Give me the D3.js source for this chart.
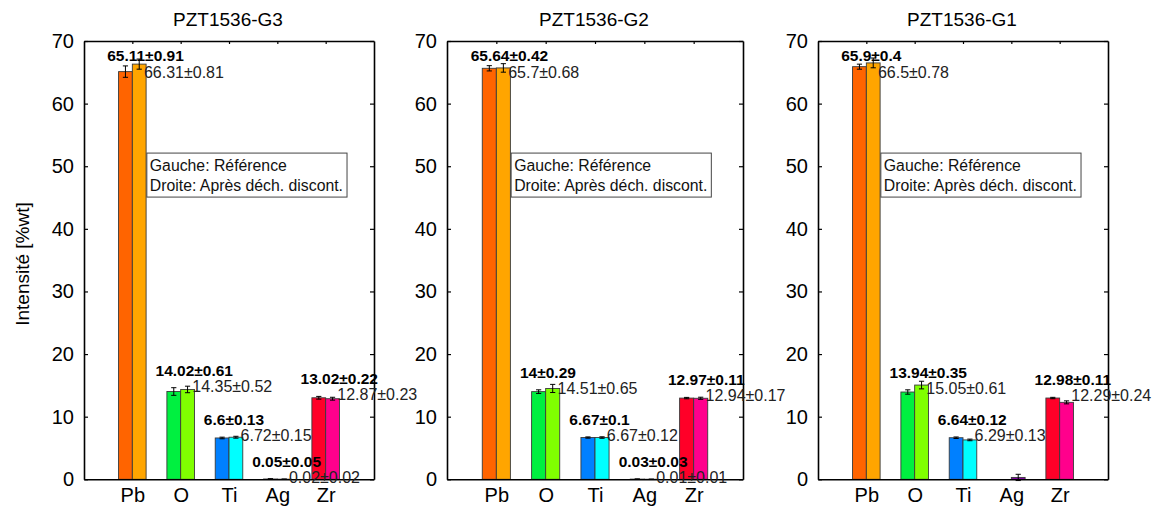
<!DOCTYPE html>
<html>
<head>
<meta charset="utf-8">
<script src="https://cdnjs.cloudflare.com/ajax/libs/d3/7.8.5/d3.min.js"></script>
<style>
  html, body { margin: 0; padding: 0; background: #fff; }
  svg { display: block; }
  text { font-family: "Liberation Sans", Arial, Helvetica, sans-serif; }
</style>
</head>
<body>
<svg id="chart" width="1155" height="509"></svg>
<script>
// ---------------- data ----------------
const categories = ["Pb", "O", "Ti", "Ag", "Zr"];
const panelTitles = ["PZT1536-G3", "PZT1536-G2", "PZT1536-G1"];
const refValues   = [[65.11, 14.02, 6.6, 0.05, 13.02], [65.64, 14, 6.67, 0.03, 12.97], [65.9, 13.94, 6.64, 0, 12.98]];
const refErrors   = [[0.91, 0.61, 0.13, 0.05, 0.22], [0.42, 0.29, 0.1, 0.03, 0.11], [0.4, 0.35, 0.12, 0, 0.11]];
const afterValues = [[66.31, 14.35, 6.72, 0.02, 12.87], [65.7, 14.51, 6.67, 0.01, 12.94], [66.5, 15.05, 6.29, 0.3, 12.29]];
const afterErrors = [[0.81, 0.52, 0.15, 0.02, 0.23], [0.68, 0.65, 0.12, 0.01, 0.17], [0.78, 0.61, 0.13, 0.5, 0.24]];
const showLabels  = [[true, true, true, true, true], [true, true, true, true, true], [true, true, true, false, true]];
const yTicks = [0, 10, 20, 30, 40, 50, 60, 70];
const refColors   = ["#ff6400", "#00f040", "#0080ff", "#5a14c8", "#ff0028"];
const afterColors = ["#ffa500", "#80ff00", "#00ffff", "#8c00b4", "#ff008c"];
const legendLines = ["Gauche: Référence", "Droite: Après déch. discont."];
const yLabel = "Intensité [%wt]";

// ---------------- layout ----------------
const panelBounds = [[84, 374], [447, 743], [818, 1108]];
const plotTop = 41, plotBottom = 479.3;
const groupWidth = 0.57;

const svg = d3.select("#chart");

function fmt(v, e) { return String(v) + "±" + String(e); }

panelBounds.forEach((b, p) => {
  const x = d3.scaleLinear().domain([0, 6]).range([b[0], b[1]]);
  const y = d3.scaleLinear().domain([0, 70]).range([plotBottom, plotTop]);
  const g = svg.append("g");
  const catPos = (i) => i + 1;

  // bars
  const bw = groupWidth / 2;
  const series = [
    { vals: refValues[p], errs: refErrors[p], colors: refColors, off: -bw },
    { vals: afterValues[p], errs: afterErrors[p], colors: afterColors, off: 0 }
  ];
  series.forEach(s => {
    g.selectAll(null).data(s.vals).enter().append("rect")
      .attr("x", (d, i) => x(catPos(i) + s.off))
      .attr("width", (d, i) => x(catPos(i) + s.off + bw) - x(catPos(i) + s.off))
      .attr("y", d => y(d))
      .attr("height", d => y(0) - y(d))
      .attr("fill", (d, i) => s.colors[i])
      .attr("stroke", "#3a3a3a")
      .attr("stroke-width", 0.9);
  });

  // error bars
  series.forEach(s => {
    s.vals.forEach((v, i) => {
      const e = s.errs[i];
      if (!e) return;
      const cx = x(catPos(i) + s.off + bw / 2);
      const y1 = y(v - e), y2 = y(v + e);
      g.append("line").attr("x1", cx).attr("x2", cx).attr("y1", y1).attr("y2", y2)
        .attr("stroke", "#000").attr("stroke-width", 1);
      [y1, y2].forEach(yy => g.append("line").attr("x1", cx - 2.6).attr("x2", cx + 2.6)
        .attr("y1", yy).attr("y2", yy).attr("stroke", "#000").attr("stroke-width", 1));
    });
  });

  // axes box
  const axisStyle = sel => {
    sel.selectAll(".domain").attr("stroke", "#000").attr("stroke-width", 1.6);
    sel.selectAll(".tick line").attr("stroke", "#000").attr("stroke-width", 1.2);
  };
  const left = g.append("g").attr("transform", `translate(${b[0]},0)`)
    .call(d3.axisLeft(y).tickValues(yTicks).tickSizeInner(-4).tickSizeOuter(0).tickPadding(10).tickFormat(d3.format("d")));
  axisStyle(left);
  left.selectAll("text").attr("font-size", 20).attr("fill", "#000");

  const right = g.append("g").attr("transform", `translate(${b[1]},0)`)
    .call(d3.axisRight(y).tickValues(yTicks).tickSizeInner(-4).tickSizeOuter(0).tickFormat(""));
  axisStyle(right);

  const top = g.append("g").attr("transform", `translate(0,${plotTop})`)
    .call(d3.axisTop(x).tickValues(categories.map((c, i) => catPos(i))).tickSizeInner(-3).tickSizeOuter(0).tickFormat(""));
  axisStyle(top);

  const bottom = g.append("g").attr("transform", `translate(0,${plotBottom})`)
    .call(d3.axisBottom(x).tickValues(categories.map((c, i) => catPos(i))).tickSizeInner(0).tickSizeOuter(0).tickPadding(9)
      .tickFormat((d, i) => categories[i]));
  axisStyle(bottom);
  bottom.selectAll("text").attr("font-size", 20).attr("fill", "#000");

  // title
  g.append("text").attr("x", (b[0] + b[1]) / 2 - 1).attr("y", 25.5).attr("text-anchor", "middle")
    .attr("font-size", 19).attr("fill", "#000").text(panelTitles[p]);

  // legend box
  const lg = g.append("g");
  const lx = x(1.3), ly = y(52.1);
  const lrect = lg.append("rect").attr("x", lx).attr("y", ly).attr("height", 44)
    .attr("fill", "#fff").attr("stroke", "#444").attr("stroke-width", 1);
  let maxW = 0;
  legendLines.forEach((t, k) => {
    const tt = lg.append("text").attr("x", lx + 3).attr("y", ly + 12.4 + 20 * k).attr("dy", "0.35em")
      .attr("font-size", 15.8).attr("fill", "#111").text(t);
    maxW = Math.max(maxW, tt.node().getComputedTextLength());
  });
  lrect.attr("width", maxW + 7);

  // value labels
  refValues[p].forEach((v, i) => {
    if (!showLabels[p][i]) return;
    const ly1 = y(Math.min(v + refErrors[p][i] + 2.8, 67.6));
    g.append("text").attr("x", x(catPos(i) - 0.52)).attr("y", ly1).attr("dy", "0.35em")
      .attr("font-size", 15.5).attr("font-weight", "bold").attr("fill", "#000")
      .text(fmt(v, refErrors[p][i]));
    g.append("text").attr("x", x(catPos(i) + 0.24)).attr("y", ly1 + 16).attr("dy", "0.35em")
      .attr("font-size", 16).attr("fill", "#222")
      .text(fmt(afterValues[p][i], afterErrors[p][i]));
  });
});

// y label
svg.append("text").attr("transform", "translate(22,264) rotate(-90)")
  .attr("text-anchor", "middle").attr("dy", "0.35em").attr("font-size", 19).attr("fill", "#000")
  .text(yLabel);
</script>
</body>
</html>
